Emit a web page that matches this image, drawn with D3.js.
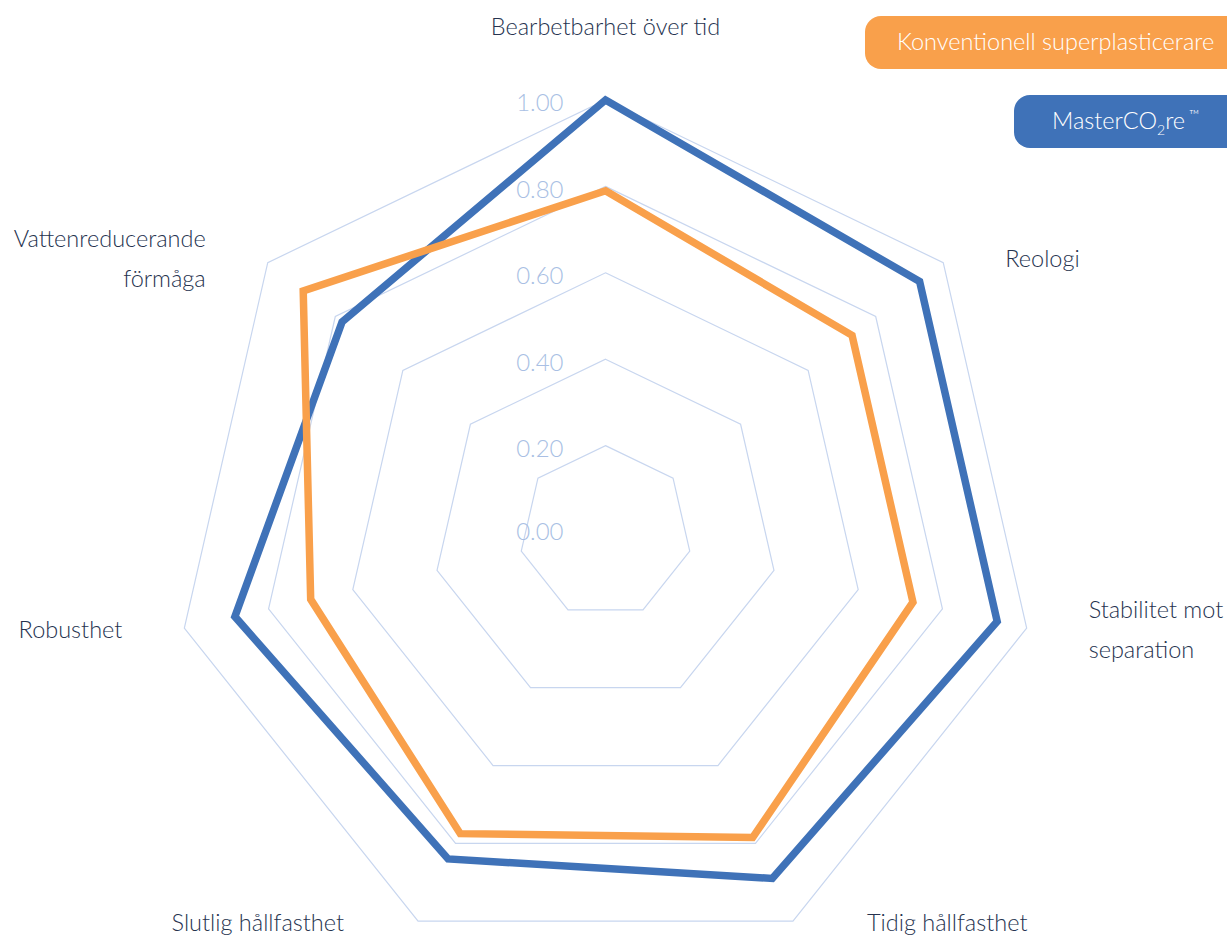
<!DOCTYPE html>
<html>
<head>
<meta charset="utf-8">
<script src="https://cdn.jsdelivr.net/npm/d3@7"></script>
<style>
  html, body { margin: 0; padding: 0; background: #fff; }
  svg { display: block; }
  text { font-family: Lato, "Open Sans", sans-serif; font-weight: 300; }
</style>
</head>
<body>
<svg id="chart" width="1227" height="938"></svg>
<script>
// ---- data ----
const categories = [
  ["Bearbetbarhet över tid"],
  ["Reologi"],
  ["Stabilitet mot", "separation"],
  ["Tidig hållfasthet"],
  ["Slutlig hållfasthet"],
  ["Robusthet"],
  ["Vattenreducerande", "förmåga"]
];
const seriesNames = ["Konventionell superplasticerare", "MasterCO2re™"];
const conventional = [0.79, 0.73, 0.73, 0.785, 0.775, 0.70, 0.895];
const masterCO2re  = [1.00, 0.93, 0.93, 0.89, 0.84, 0.88, 0.78];
const gridLevels = [0.2, 0.4, 0.6, 0.8, 1.0];
const tickLabels = ["0.00", "0.20", "0.40", "0.60", "0.80", "1.00"];
const tickValues = [0, 0.2, 0.4, 0.6, 0.8, 1.0];

// ---- layout ----
const cx = 605.5, cy = 532, R = 432;
const orange = "#F9A04B", blue = "#3F72B8";
const gridColor = "#C8D6EF", tickColor = "#A9BFE4", textColor = "#26334F";

const svg = d3.select("#chart");
const g = svg.append("g").attr("transform", `translate(${cx},${cy})`);

const r = d3.scaleLinear().domain([0, 1]).range([0, R]);
const angle = d3.scaleLinear().domain([0, categories.length]).range([0, 2 * Math.PI]);

const radial = d3.lineRadial()
  .angle((d, i) => angle(i))
  .radius(d => r(d))
  .curve(d3.curveLinearClosed);

// grid polygons
g.selectAll("path.grid").data(gridLevels).enter().append("path")
  .attr("class", "grid")
  .attr("d", lv => radial(categories.map(() => lv)))
  .attr("fill", "none")
  .attr("stroke", gridColor)
  .attr("stroke-width", 1.2);

// tick labels
g.selectAll("text.tick").data(tickValues).enter().append("text")
  .attr("class", "tick")
  .attr("x", -42)
  .attr("y", v => -r(v) + (v === 0 ? 0 : 3))
  .attr("dy", "0.35em")
  .attr("text-anchor", "end")
  .attr("fill", tickColor)
  .attr("font-size", 24)
  .text((v, i) => tickLabels[i]);

// series (blue first, orange on top)
const series = [
  { values: masterCO2re, color: blue },
  { values: conventional, color: orange }
];
g.selectAll("path.series").data(series).enter().append("path")
  .attr("class", "series")
  .attr("d", s => radial(s.values))
  .attr("fill", "none")
  .attr("stroke", s => s.color)
  .attr("stroke-width", 7.5)
  .attr("stroke-linejoin", "miter");

// axis labels
const lineH = 40;
categories.forEach((lines, i) => {
  const a = angle(i);
  const vx = Math.sin(a) * R, vy = -Math.cos(a) * R;
  let x, y, anchor;
  if (i === 0) {
    x = vx; y = vy - 73; anchor = "middle";
  } else {
    const bottom = Math.cos(a) < -0.5;
    const lower = Math.cos(a) < 0;
    const off = bottom ? 74 : 62;
    const side = Math.sin(a) > 0 ? 1 : -1;
    x = vx + side * off; y = vy + (lower ? 2 : -4);
    anchor = side > 0 ? "start" : "end";
  }
  const t = g.append("text")
    .attr("text-anchor", anchor)
    .attr("fill", textColor)
    .attr("font-size", 23.5);
  lines.forEach((ln, k) => {
    t.append("tspan")
      .attr("x", x)
      .attr("y", y + (k - (lines.length - 1) / 2) * lineH)
      .attr("dy", "0.35em")
      .text(ln);
  });
});

// legend
const leg = svg.append("g");
const legItems = [
  { name: seriesNames[0], color: orange, x: 865, y: 16, tx: 897 },
  { name: seriesNames[1], color: blue, x: 1014, y: 95, tx: 1052 }
];
legItems.forEach((d, i) => {
  leg.append("rect")
    .attr("x", d.x).attr("y", d.y)
    .attr("width", 1227 - d.x + 30).attr("height", 53)
    .attr("rx", 16).attr("ry", 16)
    .attr("fill", d.color);
  const t = leg.append("text")
    .attr("x", d.tx).attr("y", d.y + 26)
    .attr("dy", "0.35em")
    .attr("fill", "#fff")
    .attr("font-size", 23.5);
  if (i === 0) {
    t.text(d.name);
  } else {
    t.append("tspan").text("MasterCO");
    t.append("tspan").attr("font-size", 14).attr("dy", 6).text("2");
    t.append("tspan").attr("dy", -6).text("re");
    t.append("tspan").attr("font-size", 14).attr("dy", -9).attr("dx", 4).text("™");
  }
});
</script>
</body>
</html>
